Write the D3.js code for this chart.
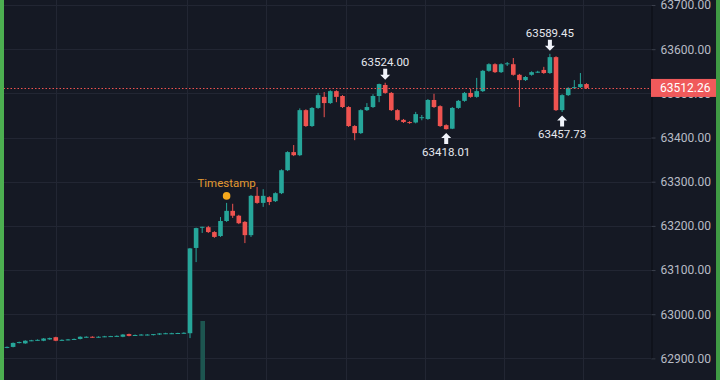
<!DOCTYPE html>
<html>
<head>
<meta charset="utf-8">
<script src="https://cdn.jsdelivr.net/npm/d3@7"></script>
<style>
  html, body { margin: 0; padding: 0; background: #151924; }
  svg { display: block; }
</style>
</head>
<body>
<div id="chart"></div>
<script>
// candle data, one entry per bar (oldest first)
var opens = [62925, 62926, 62935, 62934, 62940, 62941, 62940, 62943, 62948, 62941,
  62942, 62943, 62944, 62948, 62949, 62948, 62949, 62950, 62950, 62949,
  62955, 62952, 62953, 62953, 62953, 62954, 62956, 62956, 62957, 62957,
  62957, 63150, 63196, 63197, 63186, 63177, 63211, 63234, 63223, 63209,
  63179, 63268, 63252, 63265, 63256, 63274, 63326, 63367, 63360, 63462,
  63426, 63467, 63492, 63478, 63505, 63494, 63469, 63426, 63410, 63462,
  63469, 63494, 63519, 63501, 63462, 63440, 63435, 63434, 63445, 63442,
  63485, 63471, 63428, 63420, 63467, 63483, 63501, 63492, 63505, 63551,
  63566, 63548, 63566, 63566, 63542, 63530, 63542, 63548, 63553, 63546,
  63582, 63462, 63496, 63512, 63514, 63521];
var highs = [62927, 62936, 62938, 62941, 62942, 62943, 62946, 62947, 62949, 62943,
  62944, 62945, 62950, 62950, 62950, 62950, 62951, 62951, 62952, 62955,
  62956, 62954, 62955, 62955, 62955, 62957, 62958, 62958, 62958, 62959,
  63150, 63196, 63198, 63200, 63188, 63220, 63252, 63250, 63225, 63211,
  63270, 63288, 63283, 63267, 63276, 63328, 63369, 63383, 63466, 63464,
  63469, 63501, 63503, 63507, 63507, 63496, 63471, 63428, 63464, 63478,
  63498, 63522, 63524.00, 63503, 63464, 63442, 63437, 63458, 63451, 63487,
  63499, 63473, 63430, 63469, 63485, 63503, 63510, 63535, 63553, 63568,
  63568, 63568, 63571, 63580, 63544, 63539, 63550, 63551, 63560, 63589.45,
  63584, 63498, 63514, 63530, 63546, 63523];
var lows = [62923, 62925, 62934, 62933, 62939, 62940, 62939, 62942, 62939, 62940,
  62941, 62942, 62943, 62947, 62947, 62947, 62948, 62949, 62949, 62948,
  62950, 62951, 62952, 62952, 62952, 62953, 62955, 62955, 62956, 62956,
  62946, 63118, 63184, 63184, 63173, 63175, 63209, 63218, 63204, 63161,
  63175, 63250, 63243, 63247, 63254, 63272, 63324, 63358, 63358, 63424,
  63424, 63465, 63446, 63476, 63480, 63467, 63424, 63394, 63408, 63460,
  63467, 63480, 63499, 63460, 63438, 63433, 63431, 63432, 63439, 63440,
  63467, 63424, 63418.01, 63419, 63465, 63481, 63490, 63490, 63503, 63549,
  63546, 63546, 63562, 63540, 63469, 63528, 63540, 63546, 63544, 63544,
  63460, 63457.73, 63494, 63510, 63512, 63510];
var closes = [62926, 62935, 62937, 62940, 62941, 62942, 62945, 62946, 62940, 62942,
  62943, 62944, 62949, 62949, 62948, 62949, 62950, 62950.5, 62951, 62954,
  62951, 62953, 62954, 62954, 62955, 62956.5, 62957, 62957, 62957.5, 62958,
  63149, 63195, 63198, 63186, 63175, 63211, 63234, 63223, 63206, 63179,
  63268, 63252, 63268, 63254, 63274, 63326, 63367, 63360, 63462, 63426,
  63467, 63496, 63478, 63505, 63492, 63469, 63426, 63410, 63462, 63469,
  63494, 63521, 63501, 63462, 63440, 63435, 63433, 63453, 63446, 63485,
  63469, 63426, 63419, 63467, 63483, 63501, 63492, 63505, 63551, 63566,
  63548, 63566, 63568, 63542, 63530, 63537, 63548, 63549, 63546, 63582,
  63462, 63496, 63512, 63514, 63521, 63512.26];

// volume: only one bar reaches into view
var volumeIndex = [32];
var volumeValue = [1];

// price axis
var priceTicks = [62900, 63000, 63100, 63200, 63300, 63400, 63500, 63600, 63700];
var lastPrice = 63512.26;

// high / low markers
var markIndex = [62, 72, 89, 91];
var markPrice = [63524.00, 63418.01, 63589.45, 63457.73];
var markKind = ['high', 'low', 'high', 'low'];

// event marker
var eventIndex = 36;
var eventLabel = 'Timestamp';

var width = 720, height = 380;
var plotRight = 651;
var up = '#26a69a', down = '#ef5350';

var svg = d3.select('#chart').append('svg')
  .attr('width', width)
  .attr('height', height);

svg.append('rect')
  .attr('width', width)
  .attr('height', height)
  .attr('fill', '#151924');

var x = d3.scaleLinear().domain([0, opens.length - 1]).range([7, 586.5]);
var y = d3.scaleLinear().domain([62900, 63700]).range([358.4, 5]);
var bodyW = 4.6;

// grid
var grid = svg.append('g');
grid.selectAll('line.h')
  .data(priceTicks)
  .enter().append('line')
  .attr('class', 'h')
  .attr('x1', 0).attr('x2', plotRight)
  .attr('y1', function(d) { return Math.round(y(d)) + 0.5; })
  .attr('y2', function(d) { return Math.round(y(d)) + 0.5; })
  .attr('stroke', '#222633');

grid.selectAll('line.v')
  .data([8, 29.5, 42.5, 55.5, 68.5, 81.5, 94.5])
  .enter().append('line')
  .attr('class', 'v')
  .attr('x1', function(d) { return Math.round(x(d)) + 0.5; })
  .attr('x2', function(d) { return Math.round(x(d)) + 0.5; })
  .attr('y1', 0).attr('y2', height)
  .attr('stroke', '#222633');

// volume
svg.selectAll('rect.vol')
  .data(volumeIndex)
  .enter().append('rect')
  .attr('class', 'vol')
  .attr('x', function(d) { return x(d) - bodyW / 2 + 0.5; })
  .attr('y', function(d, i) { return height - volumeValue[i] * 59; })
  .attr('width', bodyW)
  .attr('height', function(d, i) { return volumeValue[i] * 59; })
  .attr('fill', '#1d5550');

// candles
var candle = svg.selectAll('g.candle')
  .data(d3.range(opens.length))
  .enter().append('g')
  .attr('class', 'candle');

candle.append('line')
  .attr('x1', function(i) { return x(i); })
  .attr('x2', function(i) { return x(i); })
  .attr('y1', function(i) { return y(highs[i]); })
  .attr('y2', function(i) { return y(lows[i]); })
  .attr('stroke', function(i) { return closes[i] >= opens[i] ? up : down; })
  .attr('stroke-width', 1);

candle.append('rect')
  .attr('x', function(i) { return x(i) - bodyW / 2; })
  .attr('y', function(i) { return y(Math.max(opens[i], closes[i])); })
  .attr('width', bodyW)
  .attr('height', function(i) { return Math.max(1, Math.abs(y(opens[i]) - y(closes[i]))); })
  .attr('fill', function(i) { return closes[i] >= opens[i] ? up : down; });

// last price line
svg.append('line')
  .attr('x1', 0).attr('x2', plotRight)
  .attr('y1', Math.round(y(lastPrice)) + 0.5)
  .attr('y2', Math.round(y(lastPrice)) + 0.5)
  .attr('stroke', down)
  .attr('stroke-dasharray', '1.5,2');

// high / low markers
function arrowPath(cx, tip, dir) {
  // dir = 1 points down, -1 points up
  var head = 5 * dir, len = 11 * dir;
  return 'M' + cx + ',' + tip +
    'L' + (cx - 5) + ',' + (tip - head) +
    'L' + (cx - 2) + ',' + (tip - head) +
    'L' + (cx - 2) + ',' + (tip - len) +
    'L' + (cx + 2) + ',' + (tip - len) +
    'L' + (cx + 2) + ',' + (tip - head) +
    'L' + (cx + 5) + ',' + (tip - head) + 'Z';
}

var mark = svg.selectAll('g.mark')
  .data(markIndex)
  .enter().append('g')
  .attr('class', 'mark');

mark.append('path')
  .attr('d', function(d, i) {
    var py = y(markPrice[i]);
    return markKind[i] === 'high' ? arrowPath(x(d), py - 3, 1) : arrowPath(x(d), py + 3.5, -1);
  })
  .attr('fill', '#f0f3fa');

mark.append('text')
  .text(function(d, i) { return d3.format('.2f')(markPrice[i]); })
  .attr('x', function(d) { return x(d); })
  .attr('y', function(d, i) {
    var py = y(markPrice[i]);
    return markKind[i] === 'high' ? py - 17 : py + 26;
  })
  .attr('text-anchor', 'middle')
  .attr('font-family', 'Roboto, sans-serif')
  .attr('font-size', 11.5)
  .attr('fill', '#e6e8ee');

// event marker
svg.append('circle')
  .attr('cx', x(eventIndex))
  .attr('cy', y(highs[eventIndex]) - 7)
  .attr('r', 3.8)
  .attr('fill', '#f5a81c');

svg.append('text')
  .text(eventLabel)
  .attr('x', x(eventIndex))
  .attr('y', y(highs[eventIndex]) - 16)
  .attr('text-anchor', 'middle')
  .attr('font-family', 'Roboto, sans-serif')
  .attr('font-size', 11.5)
  .attr('fill', '#e39a32');

// price scale
svg.append('rect')
  .attr('x', plotRight).attr('y', 0)
  .attr('width', width - plotRight).attr('height', height)
  .attr('fill', '#151924');

var axis = d3.axisRight(y)
  .tickValues(priceTicks)
  .tickFormat(d3.format('.2f'))
  .tickSize(4)
  .tickPadding(5);

var axisG = svg.append('g')
  .attr('transform', 'translate(' + (plotRight + 0.5) + ',0)')
  .call(axis);

axisG.select('.domain').attr('stroke', '#0b0d13');
axisG.selectAll('.tick line').attr('stroke', '#3a3f4c');
axisG.selectAll('.tick text')
  .attr('font-family', 'Roboto, sans-serif')
  .attr('font-size', 12)
  .attr('fill', '#b8bcc6');

// last price label
svg.append('rect')
  .attr('x', plotRight).attr('y', y(lastPrice) - 9)
  .attr('width', 65).attr('height', 18)
  .attr('fill', '#f05a5b');

svg.append('text')
  .text(d3.format('.2f')(lastPrice))
  .attr('x', plotRight + 9)
  .attr('y', y(lastPrice) + 4.5)
  .attr('font-family', 'Roboto, sans-serif')
  .attr('font-size', 12)
  .attr('fill', '#ffffff');

// green frame edges
svg.append('rect').attr('x', 0).attr('y', 0).attr('width', 4).attr('height', height).attr('fill', '#4caf50');
svg.append('rect').attr('x', 716).attr('y', 0).attr('width', 4).attr('height', height).attr('fill', '#3f9a44');
</script>
</body>
</html>
